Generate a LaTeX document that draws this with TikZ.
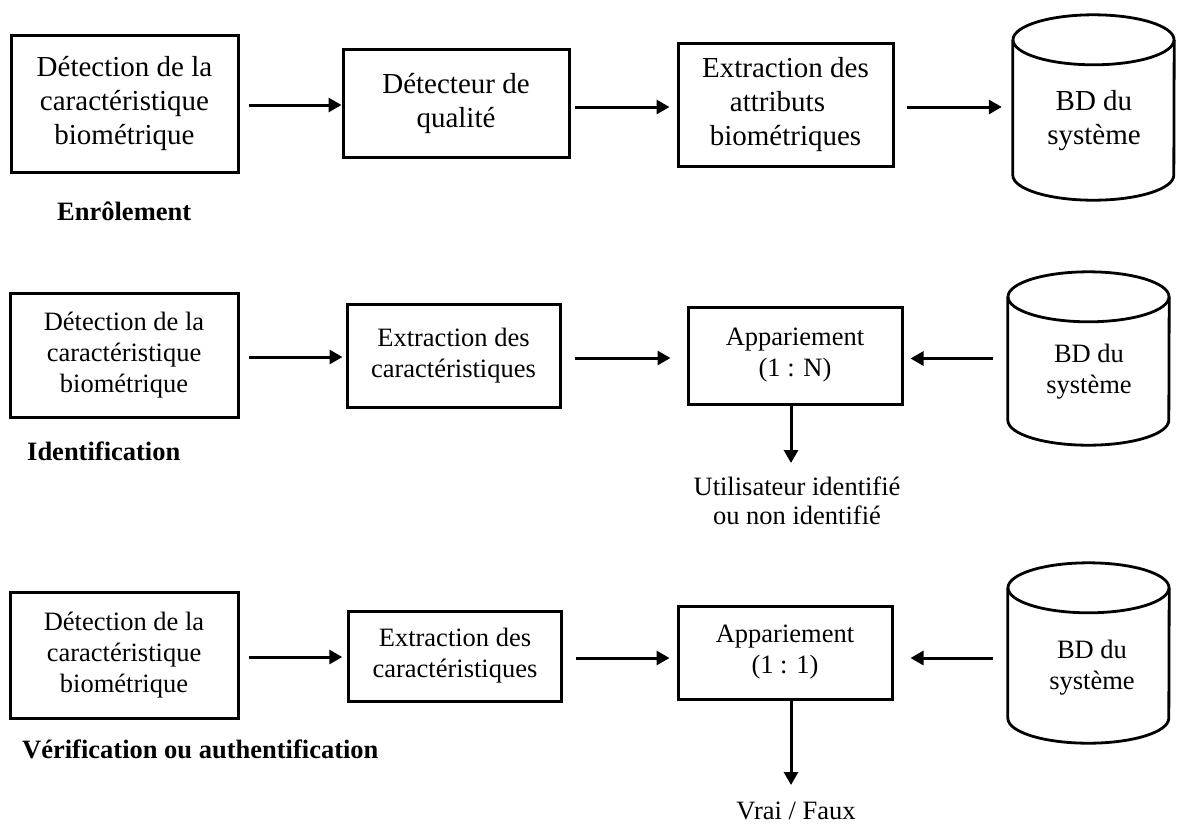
\documentclass[tikz,border=0pt]{standalone}
\usepackage{fontspec}
\setmainfont{Liberation Serif}
\usetikzlibrary{arrows.meta}
\newcommand\drawdb[1]{%
  \draw[cylline] ([yshift=-25pt]#1.north) ellipse [x radius=80.5pt, y radius=25pt];
  \draw[cylline] ([yshift=-25pt]#1.north west) -- ([yshift=25pt]#1.south west)
    arc [start angle=180, end angle=360, x radius=80.5pt, y radius=25pt]
    -- ([yshift=-25pt]#1.north east);}
\begin{document}
\begin{tikzpicture}[x=1pt,y=-1pt,
  bigtxt/.style={font=\fontsize{29}{34}\selectfont},
  smalltxt/.style={font=\fontsize{26.5}{31}\selectfont},
  procbox/.style={draw, line width=3pt, inner sep=0pt, align=center},
  dbnode/.style={draw=none, inner sep=0pt, minimum width=161pt},
  cylline/.style={line width=2.8pt},
  lbl/.style={font=\bfseries\fontsize{26.5}{31}\selectfont, inner sep=0pt, anchor=base west},
  arr/.style={line width=3pt, -{Triangle[length=13pt, width=14pt]}}]
\useasboundingbox (0,0) rectangle (1177,823);

% ---------- Row 1 : Enrolement ----------
\node[procbox, bigtxt, minimum width=227pt, minimum height=137pt] (A1) at (124.5,103.5)
  {Détection de la\\caractéristique\\biométrique};
\node[procbox, bigtxt, minimum width=226pt, minimum height=108pt] (B1) at (456,103)
  {Détecteur de\\qualité};
\node[procbox, bigtxt, minimum width=215pt, minimum height=123pt] (C1) at (785.5,104.5)
  {Extraction des\\\mbox{attributs\hspace{16pt}}\\biométriques};
\node[dbnode, minimum height=185pt] (D1) at (1093.5,107.5) {};
\drawdb{D1}
\node[bigtxt, align=center, inner sep=0pt] (D1t) at (1094,121) {BD du\\système};
\node[lbl] (L1) at (57,220) {Enrôlement};

\draw[arr, shorten <=9pt] ([yshift=-1.5pt]A1.east) -- ([yshift=-1.5pt]A1.east -| B1.west);
\draw[arr, shorten <=4pt, shorten >=7pt] ([yshift=-4pt]B1.east) -- ([yshift=-4pt]B1.east -| C1.west);
\draw[arr, shorten <=12pt, shorten >=11pt] ([yshift=-2.5pt]C1.east) -- ([yshift=-2.5pt]C1.east -| D1.west);

% ---------- Row 2 : Identification ----------
\node[procbox, smalltxt, minimum width=228pt, minimum height=124pt] (A2) at (124,355)
  {Détection de la\\caractéristique\\biométrique};
\node[procbox, smalltxt, minimum width=213pt, minimum height=103pt] (B2) at (453.5,355.5)
  {Extraction des\\caractéristiques};
\node[procbox, smalltxt, minimum width=214pt, minimum height=97pt] (C2) at (795,355.5)
  {Appariement\\(1 : N)};
\node[dbnode, minimum height=173pt] (D2) at (1088.5,358.5) {};
\drawdb{D2}
\node[smalltxt, align=center, inner sep=0pt] (D2t) at (1089,372) {BD du\\système};
\node[lbl] (L2) at (27,460) {Identification};

\draw[arr, shorten <=9pt, shorten >=3pt] ([yshift=-2pt]A2.east) -- ([yshift=-2pt]A2.east -| B2.west);
\draw[arr, shorten <=13pt, shorten >=16pt] ([yshift=-2.5pt]B2.east) -- ([yshift=-2.5pt]B2.east -| C2.west);
\draw[arr, shorten <=15pt, shorten >=7pt] (D2.west) -- (D2.west -| C2.east);

\coordinate (o2) at (791,463);
\draw[arr] (C2.south -| o2) -- (o2);
\node[font=\fontsize{26.5}{29}\selectfont, align=center, inner sep=0pt] (U) at (797,501)
  {Utilisateur identifié\\ou non identifié};

% ---------- Row 3 : Verification ----------
\node[procbox, smalltxt, minimum width=228pt, minimum height=126pt] (A3) at (124,655)
  {Détection de la\\caractéristique\\biométrique};
\node[procbox, smalltxt, minimum width=213.5pt, minimum height=90pt] (B3) at (455,656)
  {Extraction des\\caractéristiques};
\node[procbox, smalltxt, minimum width=214pt, minimum height=93pt] (C3) at (785,652.5)
  {Appariement\\(1 : 1)};
\node[dbnode, minimum height=180pt] (D3) at (1088.5,653) {};
\drawdb{D3}
\node[smalltxt, align=center, inner sep=0pt] (D3t) at (1092,668) {BD du\\système};
\node[lbl] (L3) at (22,758) {Vérification ou authentification};

\draw[arr, shorten <=9pt, shorten >=4.5pt] ([yshift=-2pt]A3.east) -- ([yshift=-2pt]A3.east -| B3.west);
\draw[arr, shorten <=13pt, shorten >=7pt] ([yshift=-2pt]B3.east) -- ([yshift=-2pt]B3.east -| C3.west);
\draw[arr, shorten <=15pt, shorten >=17pt] ([yshift=-5pt]D3.west) -- ([yshift=-5pt]D3.west -| C3.east);

\coordinate (o3) at (791,785);
\draw[arr] (C3.south -| o3) -- (o3);
\node[smalltxt, inner sep=0pt, anchor=base] (V) at (796,819) {Vrai / Faux};
\end{tikzpicture}
\end{document}
